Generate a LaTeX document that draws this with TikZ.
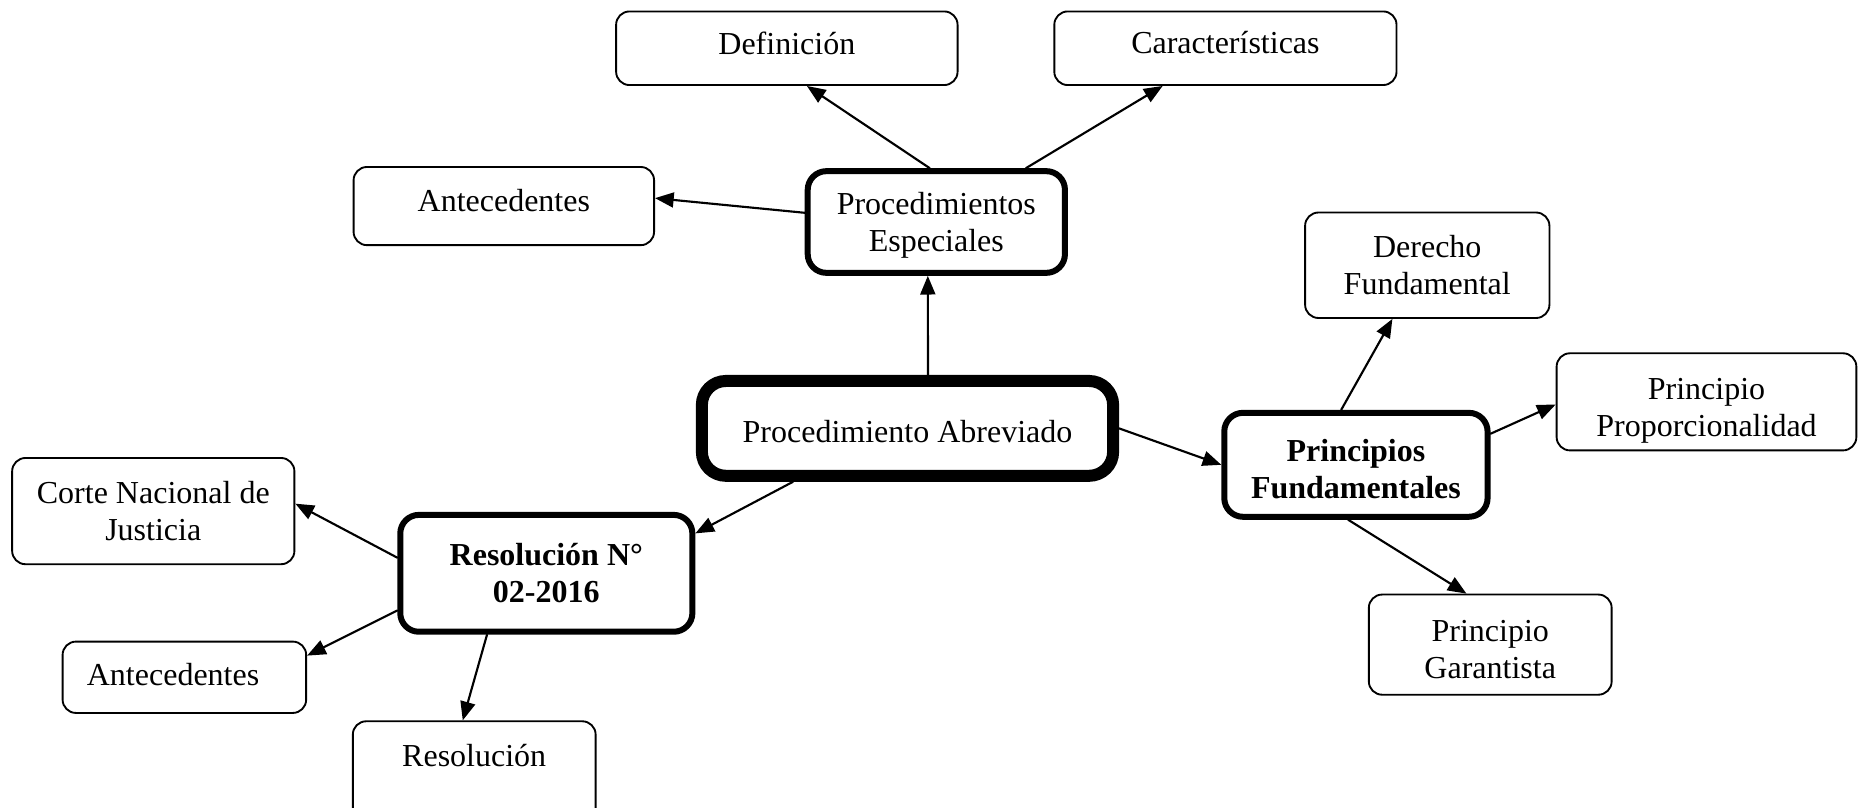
\documentclass[tikz,border=0pt]{standalone}
\usepackage{fontspec}
\setmainfont{Liberation Serif}
\usetikzlibrary{arrows.meta}

% raises the first line of a node text
\newcommand{\firstline}[1]{\rule{0pt}{#1}}

\begin{document}
\begin{tikzpicture}[
  line cap=round,
  line join=round,
  every node/.style={font=\fontsize{12}{13.8}\selectfont,align=center,inner sep=0pt},
  leaf/.style={draw,line width=0.7pt,rounded corners=5pt},
  branch/.style={draw,line width=2.25pt,rounded corners=7pt},
  core/.style={draw,line width=4.5pt,rounded corners=9pt},
  strong/.style={font=\fontsize{12}{13.8}\selectfont\bfseries},
  link/.style={line width=0.8pt,-{Triangle[length=7pt,width=5.6pt]}}
]
\useasboundingbox (0,0) rectangle (24.50,10.636);
\clip (0,0) rectangle (24.50,10.636);

% ------------------------------------------------------------------
% Centre
% ------------------------------------------------------------------
\node[core,minimum width=5.42cm,minimum height=1.25cm,text height=10.8pt] (abrev) at (11.96,4.99)
  {Procedimiento Abreviado};

% ------------------------------------------------------------------
% Procedimientos especiales
% ------------------------------------------------------------------
\node[branch,minimum width=3.39cm,minimum height=1.34cm] (espec) at (12.34,7.71)
  {\firstline{10.9pt}Procedimientos\\Especiales};
\node[leaf,minimum width=4.50cm,minimum height=0.97cm,text depth=4.1pt] (defin) at (10.37,10.00)
  {Definición};
\node[leaf,minimum width=4.51cm,minimum height=0.97cm,text depth=4.1pt] (carac) at (16.15,10.00)
  {Características};
\node[leaf,minimum width=3.96cm,minimum height=1.03cm,text depth=4.5pt] (antesA) at (6.64,7.92)
  {Antecedentes};

\draw[link] (abrev.69) -- (espec.261);
\draw[link] (espec.97) -- (defin.298);
\draw[link] (espec.31) -- (carac.211);
\draw[link] (espec.176) -- (antesA.3);

% ------------------------------------------------------------------
% Principios fundamentales
% ------------------------------------------------------------------
\node[branch,strong,minimum width=3.47cm,minimum height=1.37cm] (princ) at (17.87,4.51)
  {\firstline{11.8pt}Principios\\Fundamentales};
\node[leaf,minimum width=3.22cm,minimum height=1.39cm] (derecho) at (18.81,7.14)
  {Derecho\\Fundamental};
\node[leaf,minimum width=3.95cm,minimum height=1.28cm] (proporc) at (22.49,5.34)
  {\firstline{14.4pt}Principio\\Proporcionalidad};
\node[leaf,minimum width=3.20cm,minimum height=1.32cm] (garant) at (19.64,2.14)
  {\firstline{11.8pt}Principio\\Garantista};

\draw[link] (abrev.east) -- (princ.west);
\draw[link] (princ.105) -- (derecho.237);
\draw[link] (princ.13) -- (proporc.181);
\draw[link] (princ.262) -- (garant.115);

% ------------------------------------------------------------------
% Resolucion 02-2016
% ------------------------------------------------------------------
\node[branch,strong,minimum width=3.85cm,minimum height=1.54cm] (resol) at (7.20,3.08)
  {Resolución N°\\02-2016};
\node[leaf,minimum width=3.72cm,minimum height=1.40cm] (corte) at (2.02,3.90)
  {Corte Nacional de\\Justicia};
\node[leaf,minimum width=3.21cm,minimum height=0.94cm,text width=2.57cm,align=left,text depth=1.9pt] (antesB) at (2.43,1.71)
  {Antecedentes};
\node[leaf,minimum width=3.20cm,minimum height=1.40cm,text depth=14.2pt] (resdoc) at (6.25,0.43)
  {Resolución};

\draw[link] (abrev.205) -- (resol.15);
\draw[link] (resol.174) -- (corte.3);
\draw[link] (resol.194) -- (antesB.10);
\draw[link] (resol.226) -- (resdoc.102);

\end{tikzpicture}
\end{document}
